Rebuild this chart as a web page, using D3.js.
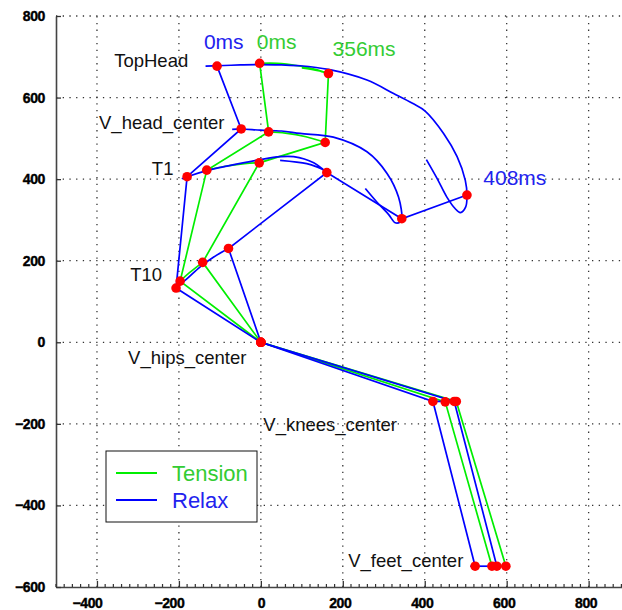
<!DOCTYPE html>
<html>
<head>
<meta charset="utf-8">
<script src="https://cdn.jsdelivr.net/npm/d3@7"></script>
<style>
  body { margin: 0; background: #fff; }
  text { font-family: 'Liberation Sans', Arial, sans-serif; }
</style>
</head>
<body>
<script>
'use strict';

const width = 622;
const height = 610;

// axis ticks
const xTicks = [-400, -200, 0, 200, 400, 600, 800];
const yTicks = [-600, -400, -200, 0, 200, 400, 600, 800];

// joint order: TopHead, V_head_center, T1, T10, V_hips_center, V_knees_center, V_feet_center
const tension0 = [[-3, 684], [19, 516], [-132, 422], [-197, 150], [0, 0], [450, -146], [564, -549]];
const tension356 = [[165, 659], [157, 490], [-4, 440], [-142, 196], [0, 0], [477, -145], [598, -549]];
const relax0 = [[-107, 677], [-48, 523], [-180, 406], [-207, 133], [0, 0], [420, -145], [523, -549]];
const relax408 = [[503, 361], [344, 303], [161, 416], [-79, 230], [0, 0], [472, -145], [576, -549]];

// joint trajectories, relax
const topHeadRelax = [[-135, 677], [-107, 678], [-50, 680], [0, 681], [50, 680], [96, 678], [165, 669],
  [259, 643], [324, 610], [370, 586], [401, 567], [446, 512], [479, 455], [499, 397], [503, 361],
  [500, 332], [487, 318], [474, 328], [454, 356], [430, 402], [404, 448]];
const headRelax = [[-70, 522], [-48, 523], [-1, 520], [50, 518], [96, 512], [177, 503], [259, 467],
  [308, 414], [336, 356], [344, 303], [340, 295], [328, 293], [312, 313], [283, 344], [255, 377]];
const t1Relax = [[-193, 401], [-180, 406], [-132, 421], [-83, 432], [-1, 448], [47, 455], [80, 455],
  [129, 440], [161, 416], [150, 424], [137, 430], [112, 438], [47, 446]];
const t10Relax = [[-212, 128], [-207, 133], [-180, 156], [-148, 185], [-115, 209], [-79, 230], [-70, 234]];
const kneesRelax = [[409, -145], [420, -145], [472, -145]];
const feetRelax = [[511, -549], [523, -549], [584, -549]];

// joint trajectories, tension
const topHeadTension = [[-3, 684], [40, 684], [90, 678], [130, 670], [165, 659], [140, 666], [100, 673]];
const headTension = [[19, 516], [60, 513], [110, 504], [157, 490]];
const t1Tension = [[-132, 422], [-90, 431], [-40, 438], [-4, 440]];
const t10Tension = [[-197, 150], [-175, 170], [-142, 196]];
const kneesTension = [[450, -146], [477, -145]];
const feetTension = [[564, -549], [598, -549]];

// text annotations [label, x, y] in data units
const jointLabels = [
  ['TopHead', -358, 675],
  ['V_head_center', -395, 523],
  ['T1', -266, 411],
  ['T10', -319, 151],
  ['V_hips_center', -324, -53],
  ['V_knees_center', 6, -217],
  ['V_feet_center', 213, -550]
];
const timeLabels = [
  ['0ms', -139, 718, 'relax'],
  ['0ms', -10, 718, 'tension'],
  ['356ms', 175, 701, 'tension'],
  ['408ms', 543, 386, 'relax']
];

const seriesNames = ['Tension', 'Relax'];
const lineColor = { tension: '#00ee00', relax: '#0000ff' };
const textColor = { tension: '#33cc33', relax: '#2222ee' };

const x = d3.scaleLinear().domain([-500, 900]).range([56, 629.6]);
const y = d3.scaleLinear().domain([-600, 800]).range([587, 16]);

const svg = d3.select('body')
  .append('svg')
    .attr('width', width)
    .attr('height', height);

// dotted grid
const grid = svg.append('g').attr('class', 'grid')
  .attr('stroke', '#333')
  .attr('stroke-width', 1.3)
  .attr('stroke-dasharray', '1.3 5.4');

grid.selectAll('line.v')
  .data(xTicks)
  .enter()
    .append('line')
      .attr('class', 'v')
      .attr('x1', d => x(d))
      .attr('x2', d => x(d))
      .attr('y1', y(-600))
      .attr('y2', y(800));

grid.selectAll('line.h')
  .data(yTicks.filter(d => d > -600))
  .enter()
    .append('line')
      .attr('class', 'h')
      .attr('x1', x(-500))
      .attr('x2', width)
      .attr('y1', d => y(d))
      .attr('y2', d => y(d));

// axes
const fmt = d3.format('d');

const xAxis = svg.append('g')
  .attr('transform', `translate(0,${y(-600)})`)
  .call(d3.axisBottom(x).tickValues(xTicks).tickSize(-6).tickSizeOuter(0).tickPadding(11).tickFormat(fmt));

const yAxis = svg.append('g')
  .attr('transform', `translate(${x(-500)},0)`)
  .call(d3.axisLeft(y).tickValues(yTicks).tickSize(-5).tickSizeOuter(0).tickPadding(11).tickFormat(fmt));

[xAxis, yAxis].forEach(g => {
  g.select('.domain').attr('stroke', '#444').attr('stroke-width', 1.6);
  g.selectAll('.tick line').attr('stroke', '#333').attr('stroke-width', 1.3);
  g.selectAll('.tick text')
    .attr('fill', '#000')
    .attr('font-size', 14)
    .attr('font-weight', 'bold')
    .attr('letter-spacing', -0.4)
    .attr('stroke', '#000')
    .attr('stroke-width', 0.4)
    .attr('font-family', "'Liberation Sans', Arial, sans-serif");
});

xAxis.selectAll('.tick text')
  .attr('dx', d => d < 0 ? -10 : (d > 0 ? -3 : 0));

// minor ticks on x axis
svg.append('g')
  .selectAll('line')
  .data(d3.range(-500, 901, 20).filter(d => d % 200 !== 0))
  .enter()
    .append('line')
      .attr('x1', d => x(d))
      .attr('x2', d => x(d))
      .attr('y1', y(-600))
      .attr('y2', y(-600) - 3)
      .attr('stroke', '#333')
      .attr('stroke-width', 1.2);

// marks
const plot = svg.append('g');
const line = d3.line().x(d => x(d[0])).y(d => y(d[1]));
const curve = d3.line().x(d => x(d[0])).y(d => y(d[1])).curve(d3.curveCatmullRom.alpha(0.5));

const tensionPaths = [topHeadTension, headTension, t1Tension, t10Tension, kneesTension, feetTension];
const relaxPaths = [topHeadRelax, headRelax, t1Relax, t10Relax, kneesRelax, feetRelax];

function drawGroup(paths, skeletons, color) {
  plot.append('g')
    .selectAll('path')
    .data(paths)
    .enter()
      .append('path')
        .attr('d', curve)
        .attr('fill', 'none')
        .attr('stroke', color)
        .attr('stroke-width', 1.7);

  plot.append('g')
    .selectAll('path')
    .data(skeletons)
    .enter()
      .append('path')
        .attr('d', line)
        .attr('fill', 'none')
        .attr('stroke', color)
        .attr('stroke-width', 1.7);
}

drawGroup(tensionPaths, [tension0, tension356], lineColor.tension);
drawGroup(relaxPaths, [relax0, relax408], lineColor.relax);

// joints
plot.append('g')
  .selectAll('circle')
  .data([].concat(tension0, tension356, relax0, relax408))
  .enter()
    .append('circle')
      .attr('cx', d => x(d[0]))
      .attr('cy', d => y(d[1]))
      .attr('r', 4.8)
      .attr('fill', '#ff0000');

// labels
svg.append('g')
  .selectAll('text')
  .data(jointLabels)
  .enter()
    .append('text')
      .attr('x', d => x(d[1]))
      .attr('y', d => y(d[2]))
      .attr('font-size', 18.5)
      .attr('fill', '#111')
      .text(d => d[0]);

svg.append('g')
  .selectAll('text')
  .data(timeLabels)
  .enter()
    .append('text')
      .attr('x', d => x(d[1]))
      .attr('y', d => y(d[2]))
      .attr('font-size', 21)
      .attr('fill', d => textColor[d[3]])
      .text(d => d[0]);

// legend
const legend = svg.append('g').attr('transform', 'translate(106,451)');

legend.append('rect')
  .attr('width', 151)
  .attr('height', 71)
  .attr('fill', '#fff')
  .attr('stroke', '#111')
  .attr('stroke-width', 1);

const entry = legend.selectAll('g')
  .data(seriesNames)
  .enter()
    .append('g')
      .attr('transform', (d, i) => `translate(0,${22 + i * 27})`);

entry.append('line')
  .attr('x1', 10)
  .attr('x2', 51)
  .attr('stroke', d => lineColor[d.toLowerCase()])
  .attr('stroke-width', 2);

entry.append('text')
  .attr('x', 66)
  .attr('y', 8)
  .attr('font-size', 22)
  .attr('fill', d => textColor[d.toLowerCase()])
  .text(d => d);
</script>
</body>
</html>
